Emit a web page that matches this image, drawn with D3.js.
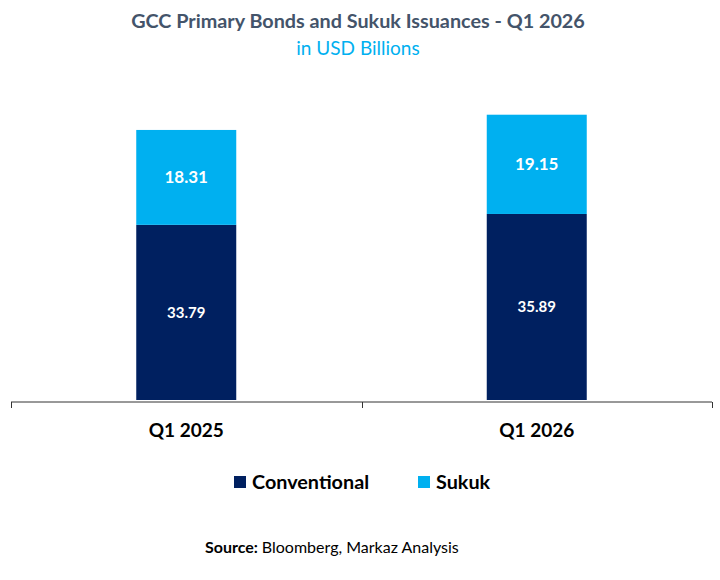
<!DOCTYPE html>
<html>
<head>
<meta charset="utf-8">
<script src="https://cdn.jsdelivr.net/npm/d3@7"></script>
<style>
  body { margin: 0; background: #fff; }
  text { font-family: Lato, "Open Sans", sans-serif; }
</style>
</head>
<body>
<div id="chart"></div>
<script>
// chart data
var categories = ['Q1 2025', 'Q1 2026'];
var conventional = [33.79, 35.89];
var sukuk = [18.31, 19.15];
var seriesNames = ['Conventional', 'Sukuk'];
var colors = ['#002060', '#00B0F0'];

var width = 720, height = 580;
var offsets = { left: 11, right: 8, top: 89, bottom: 180 };
var svgWidth = width - offsets.left - offsets.right;
var svgHeight = height - offsets.top - offsets.bottom;

var root = d3.select('#chart').append('svg').attr('width', width).attr('height', height);

root.append('text').attr('x', 358).attr('y', 28).attr('text-anchor', 'middle')
    .style('font-size', '19.8px').style('font-weight', 'bold').attr('fill', '#44546A')
    .text('GCC Primary Bonds and Sukuk Issuances - Q1 2026');
root.append('text').attr('x', 358).attr('y', 55).attr('text-anchor', 'middle')
    .style('font-size', '19px').attr('fill', '#00B0F0')
    .text('in USD Billions');

var svg = root.append('g').attr('transform', 'translate(' + offsets.left + ',' + offsets.top + ')');

var x = d3.scaleBand().domain(categories).range([0, svgWidth]).paddingInner(0).paddingOuter(0);
var y = d3.scaleLinear().domain([0, 60]).range([svgHeight, 0]);
var barW = 100;

var rows = categories.map(function(c, i) {
    return { cat: c, Conventional: conventional[i], Sukuk: sukuk[i] };
});
var stacked = d3.stack().keys(seriesNames)(rows);

stacked.forEach(function(layer, li) {
    var g = svg.append('g');
    g.selectAll('rect').data(layer).enter().append('rect')
        .attr('x', function(d) { return x(d.data.cat) + x.bandwidth() / 2 - barW / 2; })
        .attr('y', function(d) { return y(d[1]); })
        .attr('width', barW)
        .attr('height', function(d) { return y(d[0]) - y(d[1]); })
        .attr('fill', colors[li]);
    g.selectAll('text').data(layer).enter().append('text')
        .attr('x', function(d) { return x(d.data.cat) + x.bandwidth() / 2; })
        .attr('y', function(d) { return (y(d[0]) + y(d[1])) / 2; })
        .attr('dy', '0.35em')
        .attr('text-anchor', 'middle')
        .attr('fill', '#fff')
        .style('font-size', li === 0 ? '15px' : '17px')
        .style('font-weight', 'bold')
        .text(function(d) { return d3.format('.2f')(d[1] - d[0]); });
});

// x axis with ticks at band edges
var axis = svg.append('g').attr('transform', 'translate(0,' + (svgHeight + 2) + ')');
axis.append('line').attr('x1', 0).attr('x2', svgWidth).attr('stroke', '#333').attr('stroke-width', 1);
var edges = categories.map(function(c) { return x(c); }).concat([svgWidth]);
axis.selectAll('line.tick').data(edges).enter().append('line').attr('class', 'tick')
    .attr('x1', function(d) { return Math.round(d) + 0.5; })
    .attr('x2', function(d) { return Math.round(d) + 0.5; })
    .attr('y1', 0).attr('y2', 6).attr('stroke', '#333');
axis.selectAll('text').data(categories).enter().append('text')
    .attr('x', function(d) { return x(d) + x.bandwidth() / 2; })
    .attr('y', 35)
    .attr('text-anchor', 'middle')
    .style('font-size', '19px').style('font-weight', 'bold').attr('fill', '#000')
    .text(function(d) { return d; });

// legend
var legendX = [234, 418];
var legend = root.append('g');
seriesNames.forEach(function(name, i) {
    legend.append('rect').attr('x', legendX[i]).attr('y', 476).attr('width', 12).attr('height', 12).attr('fill', colors[i]);
    legend.append('text').attr('x', legendX[i] + 18).attr('y', 489)
        .style('font-size', '19.8px').style('font-weight', 'bold').attr('fill', '#000')
        .text(name);
});

// source
var src = root.append('text').attr('x', 205).attr('y', 553).style('font-size', '16px').attr('fill', '#000');
src.append('tspan').style('font-weight', 'bold').text('Source: ');
src.append('tspan').text('Bloomberg, Markaz Analysis');
</script>
</body>
</html>
